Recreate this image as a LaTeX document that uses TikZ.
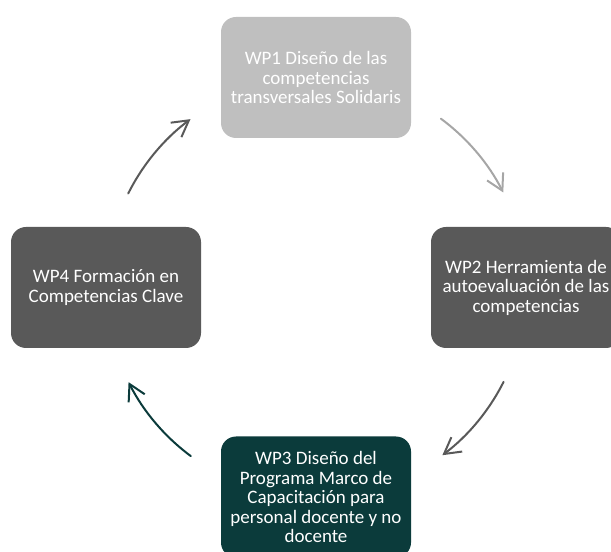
\documentclass[tikz,border=0pt]{standalone}
\usepackage{fontspec}
\setmainfont{Carlito}
\usepackage{xcolor}
\usetikzlibrary{positioning,arrows.meta}

\definecolor{wpgray}{HTML}{595959}
\definecolor{wplight}{HTML}{BFBFBF}
\definecolor{wpteal}{HTML}{0B3B3B}
\definecolor{arrowlight}{HTML}{A6A6A6}

\begin{document}
\begin{tikzpicture}[
    x=1pt, y=1pt,
    font=\fontsize{19}{19.5}\selectfont,
    wp_box/.style={rounded corners=15pt, minimum width=190pt, minimum height=121pt, text=white, align=center, inner sep=4pt},
    light_box/.style={wp_box, fill=wplight},
    dark_box/.style={wp_box, fill=wpgray},
    teal_box/.style={wp_box, fill=wpteal},
    arrow/.style={-{Straight Barb[length=16pt, width=18pt]}, line width=2pt, line cap=round}
]

\useasboundingbox (0,0) rectangle (611,552);
\coordinate (c) at (316,264.5);

% Nodes
\node (wp1) [light_box] at (316,474.5) {WP1 Diseño de las\\competencias\\transversales Solidaris};

\node (wp2) [dark_box] at (526,264.5) {WP2 Herramienta de\\autoevaluación de las\\competencias};

\node (wp3) [teal_box] at (316,55) {WP3 Diseño del\\Programa Marco de\\Capacitación para\\personal docente y no\\docente};

\node (wp4) [dark_box] at (106,264.5) {WP4 Formación en\\Competencias Clave};

% Cycle arrows
\draw [arrow, draw=arrowlight] ([shift={(53.5:210pt)}]c) arc[start angle=53.5, end angle=26.9, radius=210pt];
\draw [arrow, draw=wpgray] ([shift={(-26.7:210pt)}]c) arc[start angle=-26.7, end angle=-53, radius=210pt];
\draw [arrow, draw=wpteal] ([shift={(-126.6:210pt)}]c) arc[start angle=-126.6, end angle=-153.2, radius=210pt];
\draw [arrow, draw=wpgray] ([shift={(153.4:210pt)}]c) arc[start angle=153.4, end angle=126.7, radius=210pt];

\end{tikzpicture}
\end{document}
